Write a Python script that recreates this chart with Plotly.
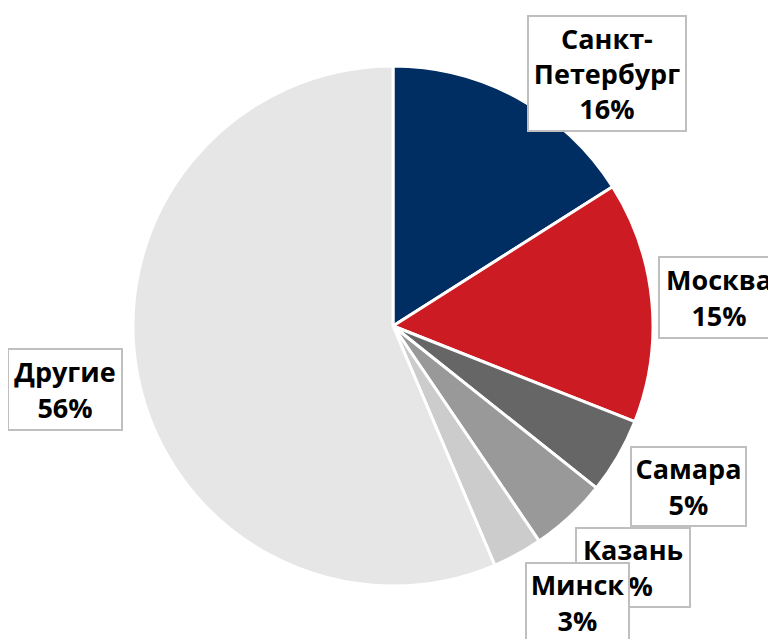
import math
import plotly.graph_objects as go

# ---- data ----
categories = ["Санкт-Петербург", "Москва", "Самара", "Казань", "Минск", "Другие"]
display_labels = ["Санкт-<br>Петербург", "Москва", "Самара", "Казань", "Минск", "Другие"]
values = [16.0, 15.0, 4.7, 4.8, 3.1, 56.4]
percent_labels = ["16%", "15%", "5%", "5%", "3%", "56%"]
colors = ["#002D62", "#CC1B22", "#666666", "#999999", "#CCCCCC", "#E6E6E6"]

# ---- layout geometry (pixels) ----
PAGE_MARGIN = 8            # browser default body margin
W, H = 776 - PAGE_MARGIN, 639 - PAGE_MARGIN
CX, CY, R = 393 - PAGE_MARGIN, 326 - PAGE_MARGIN, 260
# label placement: (angle offset in degrees, distance from centre in px, box width, box height)
label_style = [
    (11.4, 331, 156, 113),
    (0.4, 327, 118, 79),
    (-1.5, 336, 113, 77),
    (-2.0, 341, 112, 77),
    (-5.1, 332, 101, 77),
    (0.6, 334, 112, 79),
]

fig = go.Figure()
fig.add_trace(go.Pie(
    labels=categories,
    values=values,
    sort=False,
    direction="clockwise",
    rotation=0,
    textinfo="none",
    hoverinfo="label+percent",
    marker=dict(colors=colors, line=dict(color="white", width=3)),
    domain=dict(x=[(CX - R) / W, (CX + R) / W], y=[(H - CY - R) / H, (H - CY + R) / H]),
    showlegend=False,
))

total = sum(values)
cum = 0.0
annotations = []
for i, v in enumerate(values):
    mid = (cum + v / 2) / total * 360.0
    cum += v
    off, dist, bw, bh = label_style[i]
    ang = math.radians(mid + off)
    px = CX + dist * math.sin(ang)
    py = CY - dist * math.cos(ang)
    annotations.append(dict(
        x=px / W, y=1 - py / H, xref="paper", yref="paper",
        xanchor="center", yanchor="middle",
        text=f"<b>{display_labels[i]}<br>{percent_labels[i]}</b>",
        showarrow=False, align="center",
        font=dict(family="Open Sans", size=27, color="#000000"),
        bgcolor="white", bordercolor="#BFBFBF", borderwidth=2, borderpad=0,
        width=bw, height=bh,
    ))

fig.update_layout(
    width=W, height=H,
    margin=dict(l=0, r=0, t=0, b=0),
    paper_bgcolor="white", plot_bgcolor="white",
    annotations=annotations,
)
fig.write_html("out.html")
